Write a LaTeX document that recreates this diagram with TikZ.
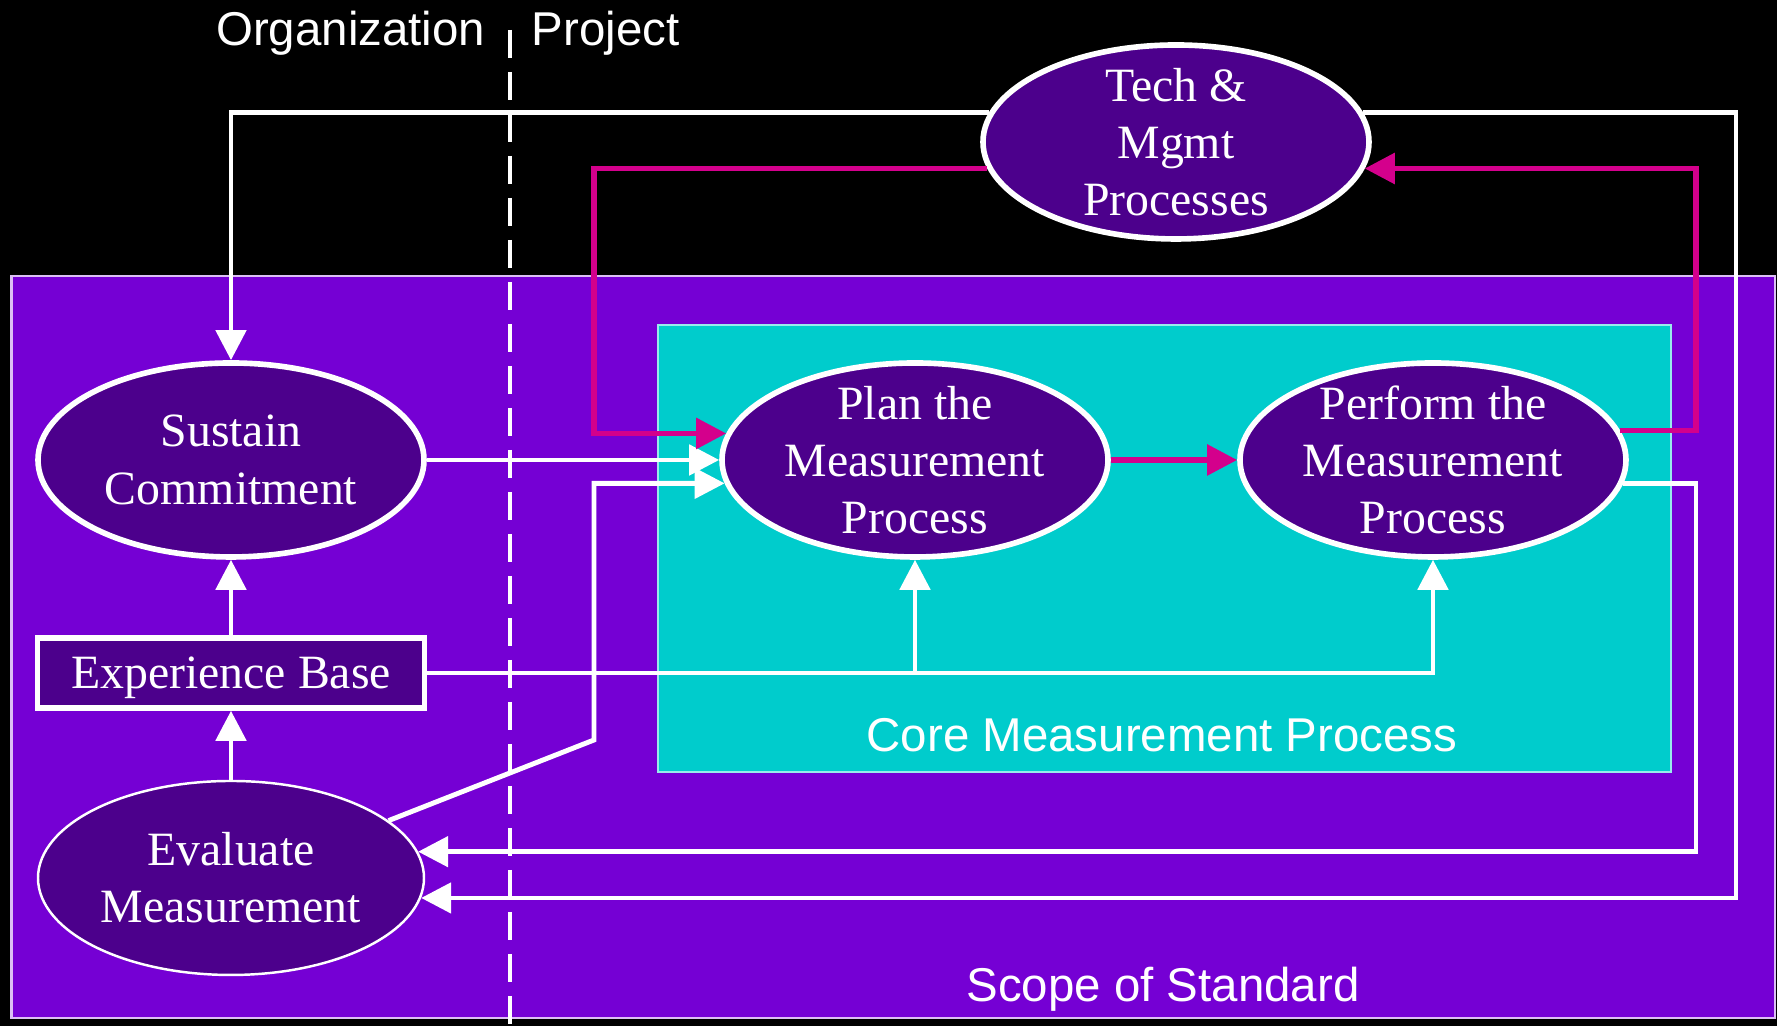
\documentclass[tikz,border=0pt]{standalone}
\usepackage{fontspec}
\setmainfont{Liberation Serif}
\setsansfont{Liberation Sans}
\usepackage{tikz}
\usetikzlibrary{shapes.geometric, arrows.meta}
\definecolor{scopepurple}{RGB}{117, 0, 212}
\definecolor{procpurple}{RGB}{76, 0, 140}
\definecolor{corecyan}{RGB}{0, 204, 204}
\definecolor{feedmagenta}{RGB}{212, 0, 140}

\begin{document}
\begin{tikzpicture}[
  proc/.style={ellipse, draw=white, line width=1.6pt, fill=procpurple, minimum width=3.86cm, minimum height=1.94cm, inner sep=0pt},
  proctext/.style={text=white, align=center, font=\fontsize{13.6}{16.3}\selectfont},
  tag/.style={text=white, inner sep=0pt, font=\sffamily\fontsize{13.5}{16}\selectfont},
  flow/.style={white, line width=1.4pt},
  feed/.style={feedmagenta, line width=1.6pt},
  arr/.style={-{Triangle[length=0.3cm, width=0.3cm]}}
]
\useasboundingbox (0,0) rectangle (17.77,10.26);
\fill[black] (0,0) rectangle (17.77,10.26);

% Scope and core boxes
\draw[fill=scopepurple, draw=white!75!scopepurple, line width=0.6pt] (0.115,0.08) rectangle (17.75,7.50);
\draw[fill=corecyan, draw=white!60!corecyan, line width=0.5pt] (6.58,2.54) rectangle (16.71,7.01);

% Organization / project divider
\draw[white, line width=1.2pt, dash pattern=on 0.28cm off 0.14cm] (5.10,9.96) -- (5.10,0);
\node[tag, anchor=base east] (orglbl) at (4.86,9.80) {Organization};
\node[tag, anchor=base west] (projlbl) at (5.31,9.80) {Project};

% Processes
\node[proc] (tech) at (11.76,8.84) {};
\node[proc] (sustain) at (2.31,5.66) {};
\node[proc] (plan) at (9.15,5.66) {};
\node[proc] (perform) at (14.33,5.66) {};
\node[proc, line width=0.7pt] (evaluate) at (2.31,1.48) {};
\node[proctext, draw=white, line width=1.6pt, fill=procpurple, minimum width=3.87cm, minimum height=0.70cm, inner sep=0pt, text depth=0pt] (expbase) at (2.31,3.53) {Experience Base};

\node[proctext] (techtxt) at (tech) {Tech \&\\Mgmt\\Processes};
\node[proctext] (sustaintxt) at (sustain) {Sustain\\Commitment};
\node[proctext] (plantxt) at (plan) {Plan the\\Measurement\\Process};
\node[proctext] (performtxt) at (perform) {Perform the\\Measurement\\Process};
\node[proctext] (evaluatetxt) at (evaluate) {Evaluate\\Measurement};

% Routing lines
\coordinate (rimout) at (17.36,0);
\coordinate (rimin) at (16.96,0);
\coordinate (jog) at (5.94,2.86);

% White flows
\draw[flow, arr] (tech.171) -| (sustain.north);
\draw[flow, arr] (tech.9) -- (tech.9 -| rimout) -- (evaluate.-6 -| rimout) -- (evaluate.-6);
\draw[flow, arr] (perform.-7) -- (perform.-7 -| rimin) -- (evaluate.8 -| rimin) -- (evaluate.8);
\draw[flow, arr] (sustain.east) -- (plan.west);
\draw[flow, arr] (evaluate.20) -- (jog) -- (jog |- plan.187) -- (plan.187);
\draw[flow, arr] (evaluate.north) -- (expbase.south);
\draw[flow, arr] (expbase.north) -- (sustain.south);
\draw[flow, arr] (expbase.east) -| (perform.south);
\draw[flow, arr] (expbase.east -| plan.south) -- (plan.south);

% Magenta feedback
\draw[feed, arr] (plan.east) -- (perform.west);
\draw[feed, arr] (perform.9) -- (perform.9 -| rimin) -- (tech.-8 -| rimin) -- (tech.-8);
\draw[feed, arr] (tech.188) -- (tech.188 -| jog) -- (plan.172 -| jog) -- (plan.172);

% Box labels
\node[tag, anchor=base] (corelbl) at (11.62,2.74) {Core Measurement Process};
\node[tag, anchor=base] (scopelbl) at (11.63,0.24) {Scope of Standard};
\end{tikzpicture}
\end{document}
